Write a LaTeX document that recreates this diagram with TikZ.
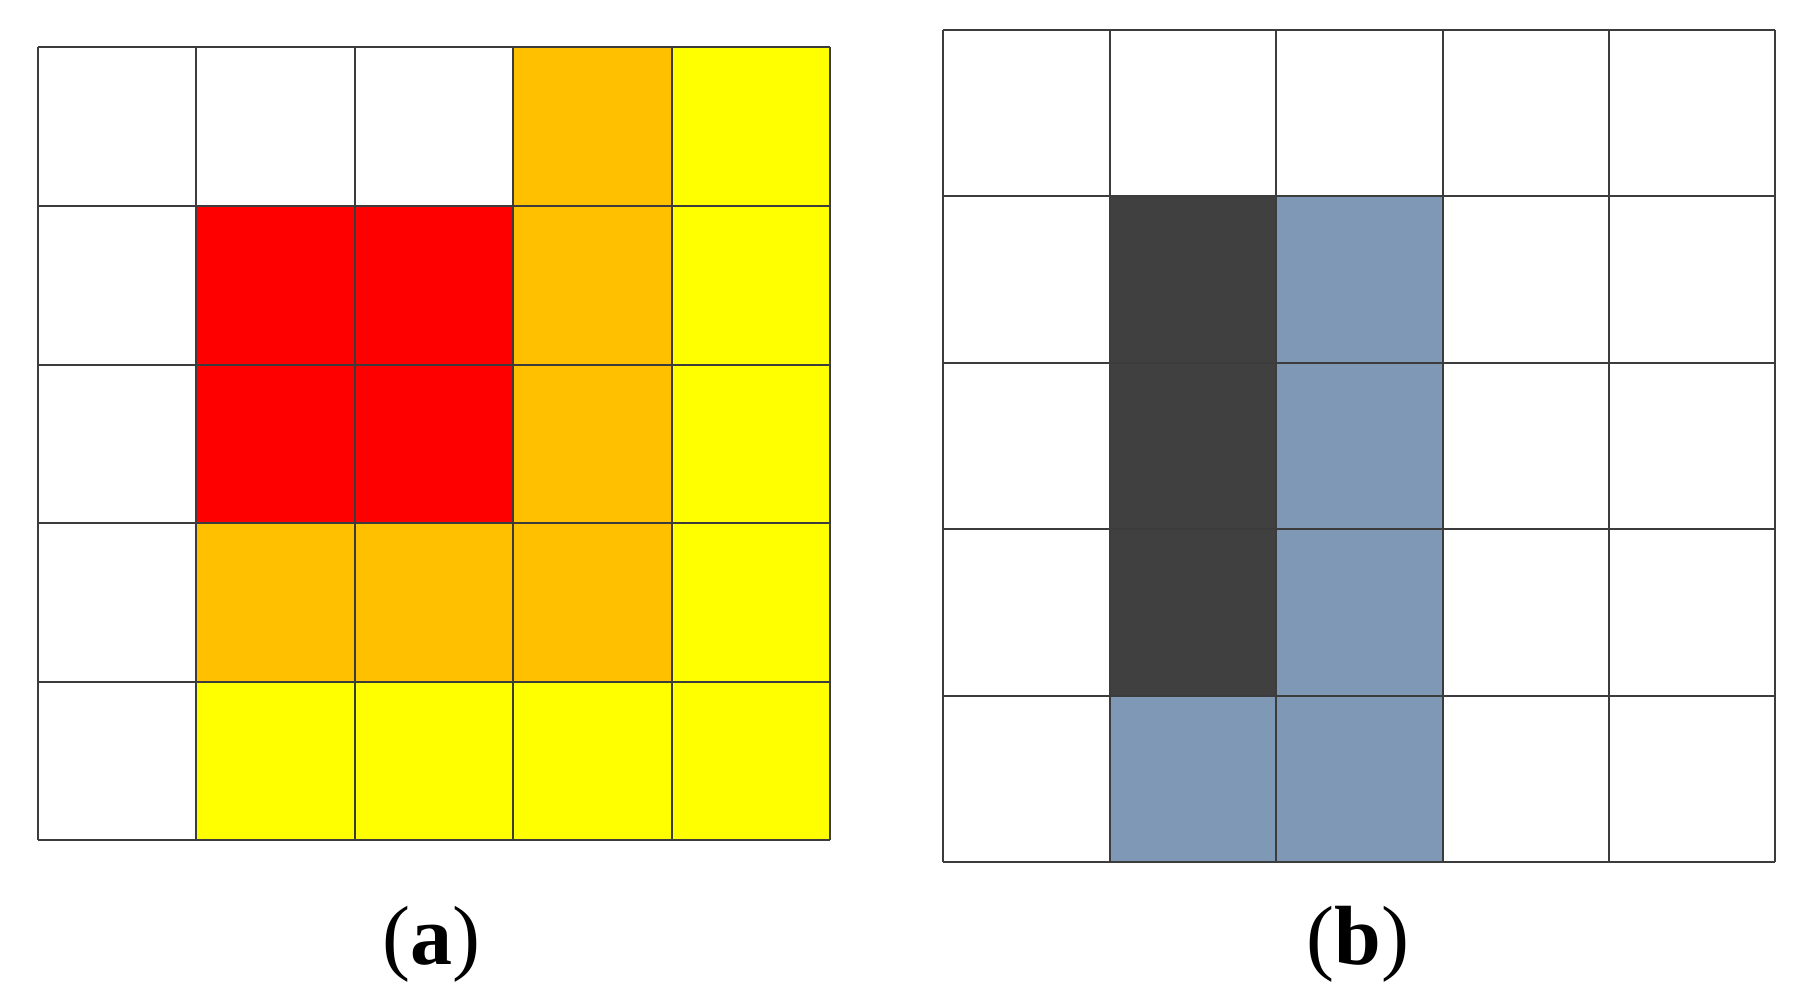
\documentclass[tikz,border=0pt]{standalone}
\usepackage{fontspec}
\setmainfont{Liberation Serif}
\definecolor{cR}{RGB}{255,0,0}
\definecolor{cO}{RGB}{255,192,0}
\definecolor{cY}{RGB}{255,255,0}
\definecolor{cD}{RGB}{64,64,64}
\definecolor{cB}{RGB}{127,152,181}
\definecolor{cW}{RGB}{255,255,255}
\definecolor{gridc}{RGB}{60,60,60}
\tikzset{gridline/.style={draw=gridc,line width=1pt},
  lab/.style={font=\fontsize{42}{48}\selectfont,inner sep=0pt,anchor=base}}
\begin{document}
\begin{tikzpicture}[x=0.5pt,y=-0.5pt]
\useasboundingbox (0,0) rectangle (1812,1006);
% grid (a)
\def\ax{37.5}\def\ay{47.5}\def\ac{158.5}
\foreach \row [count=\r from 0] in {{W,W,W,O,Y},{W,R,R,O,Y},{W,R,R,O,Y},{W,O,O,O,Y},{W,Y,Y,Y,Y}}{
  \foreach \c [count=\k from 0] in \row {
    \fill[c\c] (\ax+\k*\ac,\ay+\r*\ac) rectangle ++(\ac,\ac);
  }
}
\foreach \i in {0,...,5}{
  \draw[gridline] (\ax+\i*\ac,\ay) -- (\ax+\i*\ac,\ay+5*\ac);
  \draw[gridline] (\ax,\ay+\i*\ac) -- (\ax+5*\ac,\ay+\i*\ac);
}
% grid (b)
\def\bx{943.3}\def\by{30}\def\bc{166.4}
\foreach \row [count=\r from 0] in {{W,W,W,W,W},{W,D,B,W,W},{W,D,B,W,W},{W,D,B,W,W},{W,B,B,W,W}}{
  \foreach \c [count=\k from 0] in \row {
    \fill[c\c] (\bx+\k*\bc,\by+\r*\bc) rectangle ++(\bc,\bc);
  }
}
\foreach \i in {0,...,5}{
  \draw[gridline] (\bx+\i*\bc,\by) -- (\bx+\i*\bc,\by+5*\bc);
  \draw[gridline] (\bx,\by+\i*\bc) -- (\bx+5*\bc,\by+\i*\bc);
}
\node[lab] (la) at (431,964) {(\textbf{a})};
\node[lab] (lb) at (1358,964) {(\textbf{b})};
\end{tikzpicture}
\end{document}
